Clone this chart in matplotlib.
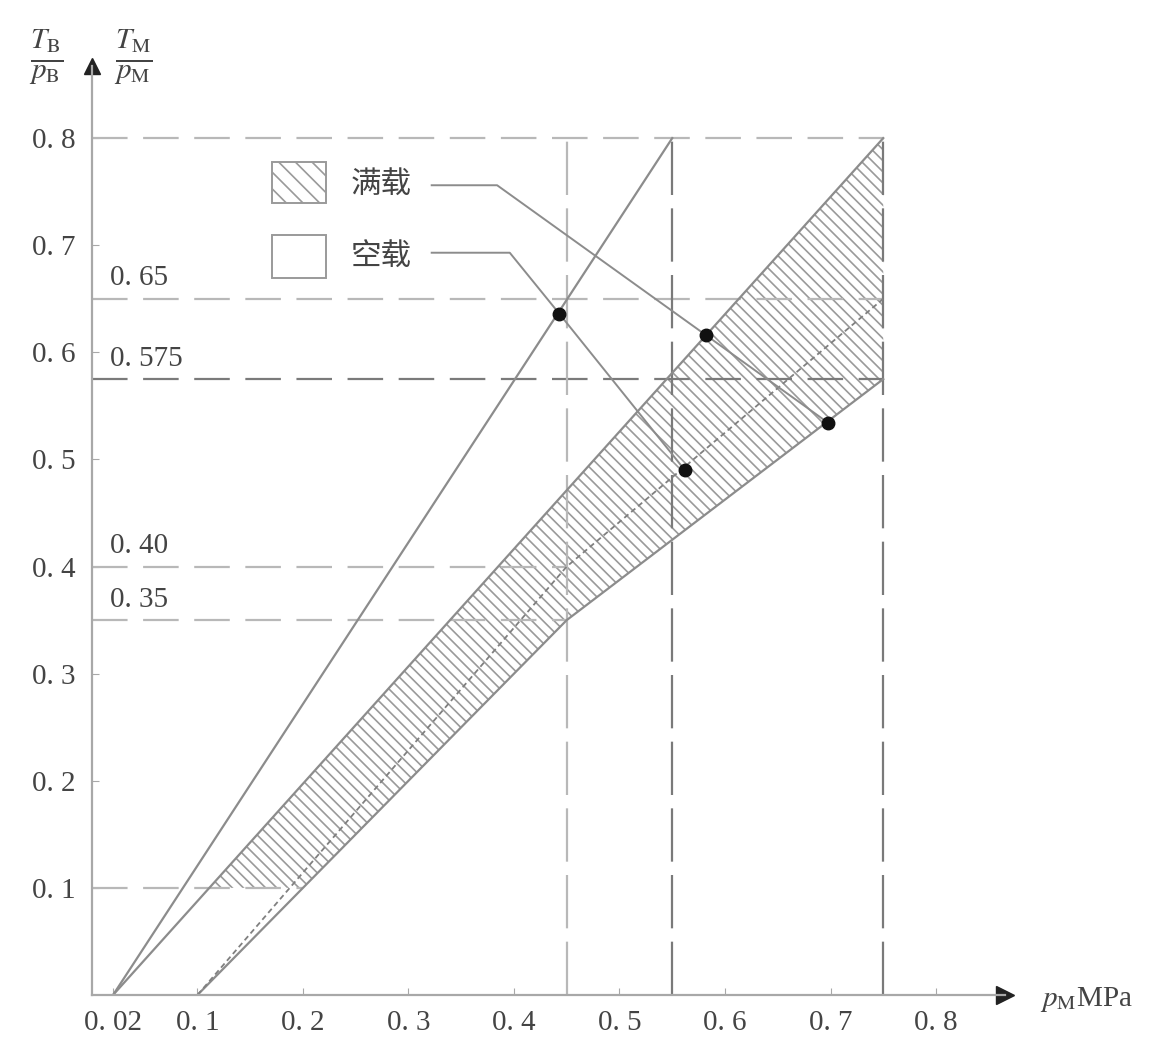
import matplotlib.pyplot as plt
from matplotlib.patches import Polygon, Rectangle
import numpy as np

plt.rcParams['font.family'] = ['Liberation Serif', 'Noto Sans CJK SC']
plt.rcParams['mathtext.fontset'] = 'stix'
plt.rcParams['hatch.linewidth'] = 1.2

# chart data
x_ticks = [0.02, 0.1, 0.2, 0.3, 0.4, 0.5, 0.6, 0.7, 0.8]
x_labels = ['0. 02', '0. 1', '0. 2', '0. 3', '0. 4', '0. 5', '0. 6', '0. 7', '0. 8']
y_ticks = [0.1, 0.2, 0.3, 0.4, 0.5, 0.6, 0.7, 0.8]
y_labels = ['0. 1', '0. 2', '0. 3', '0. 4', '0. 5', '0. 6', '0. 7', '0. 8']

steep_x = [0.02, 0.55]
steep_y = [0.0, 0.8]
upper_x = [0.02, 0.75]
upper_y = [0.0, 0.8]
lower_x = [0.1, 0.45, 0.75]
lower_y = [0.0, 0.35, 0.575]
mid_x = [0.1, 0.45, 0.75]
mid_y = [0.0, 0.40, 0.65]

full_x = [0.582, 0.698]
full_y = [0.616, 0.534]
empty_x = [0.443, 0.562]
empty_y = [0.636, 0.49]

h_levels = [0.8, 0.65, 0.575, 0.40, 0.35, 0.10]
h_ends = [0.75, 0.75, 0.75, 0.45, 0.45, 0.2]
v_levels = [0.45, 0.55, 0.75]
marked_levels = [0.65, 0.575, 0.40, 0.35]
marked_labels = ['0. 65', '0. 575', '0. 40', '0. 35']

hatch_bottom = 0.1

# figure and axes, placed so the data area sits where the scan has it
fig = plt.figure(figsize=(11.51, 10.55), dpi=100)
ax = fig.add_axes([0.0799, 0.0569, 0.7929, 0.8802])
ax.set_xlim(0, 0.865)
ax.set_ylim(0, 0.867)

for s in ['top', 'right']:
    ax.spines[s].set_visible(False)
for s in ['left', 'bottom']:
    ax.spines[s].set_color('#a8a8a8')
    ax.spines[s].set_linewidth(1.6)
ax.plot(1, 0, '>', color='#222222', ms=13, transform=ax.get_yaxis_transform(), clip_on=False)
ax.plot(0, 1, '^', color='#222222', ms=11, transform=ax.get_xaxis_transform(), clip_on=False)

ax.set_xticks(x_ticks)
ax.set_xticklabels(x_labels)
ax.set_yticks(y_ticks)
ax.set_yticklabels(y_labels)
ax.tick_params(axis='both', direction='in', length=5, color='#a8a8a8',
               labelsize=21, labelcolor='#444444')
ax.tick_params(axis='x', pad=11)
ax.tick_params(axis='y', pad=12)

# dashed guide lines
light = '#b8b8b8'
dark = '#7a7a7a'
for lev, end in zip(h_levels, h_ends):
    c = dark if lev == 0.575 else light
    ax.plot([0, end], [lev, lev], color=c, lw=1.6, dashes=(16, 7))
for lev in v_levels:
    c = light if lev == 0.45 else dark
    ax.plot([lev, lev], [0, 0.8], color=c, lw=1.6, dashes=(24, 6))

for lev, lab in zip(marked_levels, marked_labels):
    ax.text(0.017, lev + 0.019, lab, fontsize=21, color='#444444', va='center')

# hatched full-load band
xu0 = np.interp(hatch_bottom, upper_y, upper_x)
xl0 = np.interp(hatch_bottom, lower_y, lower_x)
band = [(xu0, hatch_bottom), (upper_x[1], upper_y[1])]
band += [(lower_x[i], lower_y[i]) for i in range(len(lower_x) - 1, 0, -1)]
band += [(xl0, hatch_bottom)]
ax.add_patch(Polygon(band, closed=True, facecolor='none', edgecolor='#9a9a9a',
                     linewidth=0, hatch='\\\\\\'))

line_c = '#8c8c8c'
ax.plot(steep_x, steep_y, color=line_c, lw=1.6)
ax.plot(upper_x, upper_y, color=line_c, lw=1.6)
ax.plot(lower_x, lower_y, color=line_c, lw=1.6)
ax.plot(mid_x, mid_y, color='#808080', lw=1.3, dashes=(3, 2))

# legend boxes
ax.add_patch(Rectangle((0.171, 0.739), 0.051, 0.039, facecolor='white',
                       edgecolor='#9a9a9a', lw=1.4, hatch='\\\\'))
ax.add_patch(Rectangle((0.171, 0.669), 0.051, 0.041, facecolor='white',
                       edgecolor='#9a9a9a', lw=1.4))
ax.text(0.245, 0.756, '满载', fontsize=22, color='#444444', va='center')
ax.text(0.245, 0.688, '空载', fontsize=22, color='#444444', va='center')

# leader lines to the points
ax.plot([0.322, 0.384] + full_x, [0.756, 0.756] + full_y, color=line_c, lw=1.4)
ax.plot([0.322, 0.396] + empty_x, [0.693, 0.693] + empty_y, color=line_c, lw=1.4)
ax.plot(full_x + empty_x, full_y + empty_y, 'o', color='#111111', ms=9, ls='none')

# axis titles
ax.text(-0.043, 0.876, r'$\frac{T_{\rm B}}{p_{\rm B}}$', fontsize=30, color='#444444',
        ha='center', va='center', clip_on=False)
ax.text(0.039, 0.876, r'$\frac{T_{\rm M}}{p_{\rm M}}$', fontsize=30, color='#444444',
        ha='center', va='center', clip_on=False)
ax.text(0.899, -0.004, r'$p_{\rm M}$MPa', fontsize=21, color='#444444',
        ha='left', va='center', clip_on=False)

fig.savefig('out.png', dpi=100)
